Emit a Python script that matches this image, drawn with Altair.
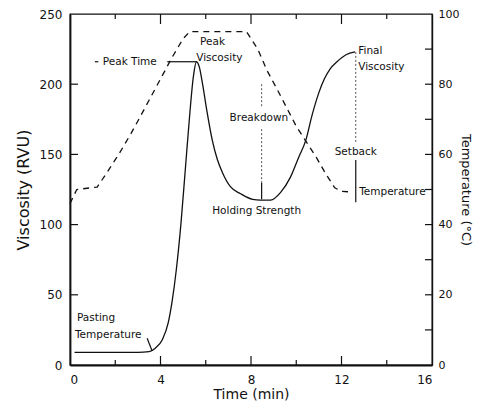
import altair as alt
import pandas as pd

# ---- data ----
visc_time = [0.2, 1.0, 2.0, 3.0, 3.5, 3.77, 4.08, 4.34, 4.52, 4.7, 4.9, 5.1, 5.3, 5.45, 5.59,
             5.72, 5.86, 6.05, 6.29, 6.52, 6.74, 7.09, 7.54, 8.07, 8.42, 8.87, 9.31, 9.75,
             10.11, 10.42, 10.7, 11.0, 11.25, 11.5, 11.8, 12.2, 12.6]
visc_rvu = [9, 9, 9, 9, 9.5, 12, 18, 30, 46, 68, 100, 140, 180, 205, 216,
            212, 200, 181, 160, 146, 137, 127, 122, 118, 117.5, 117.5, 123, 134,
            148, 160, 178, 194, 204, 211, 216, 221, 223]

temp_time = [0.0, 0.3, 1.2, 1.6, 2.2, 2.7, 3.0, 3.5, 4.0, 4.5, 5.0, 5.3, 7.8, 8.0, 8.3,
             8.7, 9.2, 9.6, 10.0, 10.4, 10.9, 11.3, 11.7, 12.0, 12.4]
temp_c = [46, 50, 50.7, 54.5, 60.5, 66, 69.5, 75.5, 81.5, 87.5, 93, 95, 95, 93, 90,
          84, 78, 73, 68, 64, 59, 54.5, 50.5, 49.5, 49.3]

x_labels = [0, 4, 8, 12, 16]
y_labels = [0, 50, 100, 150, 200, 250]
t_labels = [0, 20, 40, 60, 80, 100]
x_major_ticks = [4, 8, 12]
x_minor_ticks = [2, 6, 10, 14]
y_ticks = [50, 100, 150, 200]
t_ticks = [10, 20, 30, 40, 50, 60, 70, 80, 90]

left_text = ["Peak Time", "Peak", "Viscosity", "Final", "Viscosity", "Temperature", "Pasting", "Temperature"]
left_t = [1.45, 5.75, 5.58, 12.74, 12.74, 12.78, 0.31, 0.22]
left_v = [216, 230, 218.5, 224, 212.5, 123, 33.5, 21.5]
center_text = ["Breakdown", "Holding Strength", "Setback"]
center_t = [8.35, 8.25, 12.63]
center_v = [176, 109.5, 152]

solid_t = [4.3, 1.1, 12.63, 8.47, 3.41]
solid_v = [216, 216, 146, 130, 19]
solid_t2 = [5.59, 1.25, 12.63, 8.47, 3.63]
solid_v2 = [216, 216, 116, 118, 10]
dot_t = [12.63, 8.47, 8.47]
dot_v = [223, 200, 168]
dot_t2 = [12.63, 8.47, 8.47]
dot_v2 = [158, 183, 130]

# ---- chart ----
W, H = 362, 351
INK = "#111111"
FONT = "DejaVu Sans"

xs = alt.Scale(domain=[0, 16], nice=False, zero=False)
ys = alt.Scale(domain=[0, 250], nice=False)
ts = alt.Scale(domain=[0, 100], nice=False)

x_axis = alt.Axis(values=x_labels, title="Time (min)", ticks=False, grid=False, format="d",
                  labelFontSize=12, titleFontSize=14, labelPadding=9, titlePadding=2,
                  domainWidth=1.8)
y_axis = alt.Axis(values=y_labels, title="Viscosity (RVU)", ticks=False, grid=False, format="d",
                  labelFontSize=12, titleFontSize=16, labelPadding=8, titlePadding=8,
                  domainWidth=1.8)
t_axis = alt.Axis(values=t_labels, title="Temperature (°C)", orient="right", ticks=False,
                  grid=False, format="d", labelFontSize=11, titleFontSize=13,
                  labelPadding=6, titlePadding=0, domainWidth=1.4)

X = lambda f="t": alt.X(f"{f}:Q", scale=xs, axis=x_axis)
Y = lambda f="v": alt.Y(f"{f}:Q", scale=ys, axis=y_axis)

visc_df = pd.DataFrame({"t": visc_time, "v": visc_rvu})
temp_df = pd.DataFrame({"t": temp_time, "T": temp_c})

visc_line = alt.Chart(visc_df).mark_line(color=INK, strokeWidth=1.3, interpolate="monotone").encode(x=X(), y=Y())

solid = alt.Chart(pd.DataFrame({"t": solid_t, "v": solid_v, "t2": solid_t2, "v2": solid_v2})).mark_rule(
    color=INK, strokeWidth=1.2).encode(x=X(), y=Y(), x2="t2:Q", y2="v2:Q")
dotted = alt.Chart(pd.DataFrame({"t": dot_t, "v": dot_v, "t2": dot_t2, "v2": dot_v2})).mark_rule(
    color="#555555", strokeWidth=1.0, strokeDash=[2, 2]).encode(x=X(), y=Y(), x2="t2:Q", y2="v2:Q")

txt_left = alt.Chart(pd.DataFrame({"label": left_text, "t": left_t, "v": left_v})).mark_text(
    align="left", baseline="middle", font=FONT, fontSize=10.5, color=INK).encode(x=X(), y=Y(), text="label:N")
txt_center = alt.Chart(pd.DataFrame({"label": center_text, "t": center_t, "v": center_v})).mark_text(
    align="center", baseline="middle", font=FONT, fontSize=10.5, color=INK).encode(x=X(), y=Y(), text="label:N")

bot_major = alt.Chart(pd.DataFrame({"t": x_major_ticks})).mark_rule(color=INK, strokeWidth=1.2).encode(
    x=X(), y=alt.value(H), y2=alt.value(H - 9))
bot_minor = alt.Chart(pd.DataFrame({"t": x_minor_ticks})).mark_rule(color=INK, strokeWidth=1.2).encode(
    x=X(), y=alt.value(H), y2=alt.value(H - 5))
top_major = alt.Chart(pd.DataFrame({"t": x_major_ticks})).mark_rule(color=INK, strokeWidth=1.2).encode(
    x=X(), y=alt.value(0), y2=alt.value(10))
top_minor = alt.Chart(pd.DataFrame({"t": x_minor_ticks})).mark_rule(color=INK, strokeWidth=1.2).encode(
    x=X(), y=alt.value(0), y2=alt.value(5))
left_ticks = alt.Chart(pd.DataFrame({"v": y_ticks})).mark_rule(color=INK, strokeWidth=1.2).encode(
    y=Y(), x=alt.value(0), x2=alt.value(8))

visc_group = alt.layer(visc_line, solid, dotted, txt_left, txt_center,
                       bot_major, bot_minor, top_major, top_minor, left_ticks)

temp_line = alt.Chart(temp_df).mark_line(color=INK, strokeWidth=1.3, strokeDash=[6, 5]).encode(
    x=X(), y=alt.Y("T:Q", scale=ts, axis=t_axis))
right_ticks = alt.Chart(pd.DataFrame({"T": t_ticks})).mark_rule(color=INK, strokeWidth=1.2).encode(
    y=alt.Y("T:Q", scale=ts, axis=t_axis), x=alt.value(W), x2=alt.value(W - 7))
temp_group = alt.layer(temp_line, right_ticks)

chart = alt.layer(visc_group, temp_group).resolve_scale(y="independent").properties(
    width=W, height=H,
    padding={"left": 62, "top": 6, "right": 44, "bottom": 39},
    autosize=alt.AutoSizeParams(type="none"),
).configure_view(stroke=INK, strokeWidth=1.3).configure_axis(
    domainColor=INK, labelColor=INK, titleColor=INK, labelFont=FONT, titleFont=FONT,
    titleFontWeight="normal"
)

chart.save("out.html", embed_options={"renderer": "svg", "actions": False})
